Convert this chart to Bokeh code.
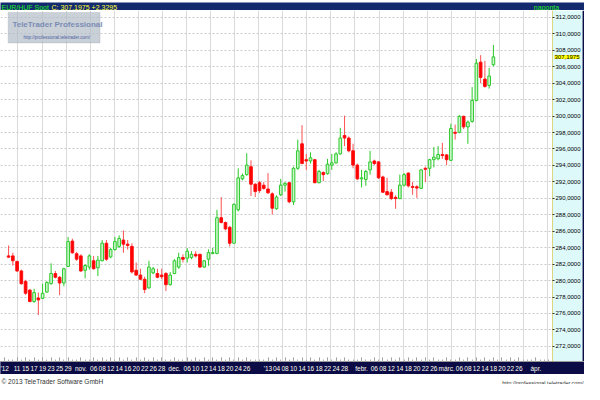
import numpy as np
from bokeh.plotting import figure
from bokeh.layouts import column
from bokeh.models import ColumnDataSource, Range1d, FixedTicker, Label, BoxAnnotation
from bokeh.core.properties import value
from bokeh.embed import file_html
from bokeh.resources import INLINE

# ---------------- data ----------------
start_date = "2012-10-09"
opens = [283.0, 283.0, 282.33, 281.17, 279.9, 278.85, 277.45, 277.88, 277.84, 278.6,
         279.62, 280.86, 280.4, 279.7, 281.72, 284.8, 283.27, 283.0, 281.25, 281.64,
         282.41, 281.56, 282.41, 284.54, 282.88, 283.77, 284.16, 284.93, 284.43, 284.16,
         281.25, 280.67, 280.16, 279.12, 280.94, 280.86, 280.67, 280.86, 279.5, 280.86,
         281.64, 282.8, 282.72, 282.8, 283.19, 283.19, 281.64, 282.6, 283.3, 283.3,
         287.64, 287.06, 286.48, 284.54, 288.6, 292.37, 292.88, 293.85, 291.72, 291.9,
         291.6, 291.13, 290.55, 288.73, 290.43, 291.6, 291.9, 289.58, 293.65, 296.63,
         294.7, 294.54, 294.7, 291.9, 293.15, 292.99, 294.04, 294.31, 295.4, 297.64,
         297.33, 295.78, 294.04, 292.37, 292.3, 293.46, 294.54, 294.43, 292.6, 290.82,
         290.74, 290.12, 289.97, 291.6, 293.07, 291.44, 291.4, 291.21, 293.65, 293.65,
         294.7, 294.81, 295.32, 295.28, 294.62, 298.03, 298.03, 299.97, 298.69, 299.35,
         301.91, 306.56, 304.5, 303.73, 306.25]
highs = [284.27, 283.38, 282.4, 281.33, 280.1, 278.93, 279.0, 278.54, 279.6, 279.9,
         282.1, 281.17, 280.55, 281.56, 285.3, 285.1, 283.5, 283.19, 282.0, 283.19,
         283.0, 283.0, 284.93, 284.93, 283.96, 285.3, 285.5, 286.1, 284.93, 284.54,
         282.2, 281.44, 280.47, 282.4, 281.64, 281.44, 281.44, 281.05, 281.05, 282.6,
         283.38, 283.19, 283.96, 283.57, 283.57, 283.27, 282.49, 283.8, 283.96, 288.6,
         290.16, 287.18, 286.67, 289.39, 293.65, 293.0, 295.47, 294.62, 291.83, 292.1,
         291.98, 293.07, 290.74, 290.36, 292.37, 291.98, 291.98, 293.85, 297.14, 298.9,
         295.4, 295.6, 294.8, 293.46, 293.26, 294.8, 295.4, 295.6, 298.57, 300.05,
         297.53, 296.64, 294.23, 293.46, 293.46, 295.78, 294.7, 294.54, 292.76, 292.49,
         291.13, 290.36, 292.88, 293.07, 293.15, 291.98, 291.6, 293.53, 293.85, 294.8,
         296.25, 296.36, 296.75, 295.4, 299.08, 298.96, 300.12, 300.05, 299.46, 303.53,
         306.95, 307.41, 306.72, 305.86, 308.65]
lows = [282.8, 281.83, 281.05, 279.5, 278.27, 277.37, 277.3, 275.8, 277.76, 278.54,
        279.5, 280.28, 278.23, 279.3, 281.64, 283.27, 282.4, 281.05, 280.28, 281.33,
        281.33, 280.55, 282.33, 282.41, 282.72, 283.65, 283.96, 283.38, 283.77, 280.86,
        280.55, 280.1, 278.46, 279.0, 280.78, 280.28, 280.16, 278.73, 279.39, 280.78,
        281.44, 282.2, 282.2, 282.6, 282.8, 281.56, 281.56, 281.8, 283.19, 283.19,
        286.95, 286.1, 284.15, 284.47, 288.42, 292.2, 292.76, 290.28, 290.16, 290.67,
        291.05, 290.55, 288.03, 288.62, 290.28, 290.82, 289.39, 289.2, 293.46, 294.15,
        293.46, 294.23, 291.83, 291.83, 292.1, 292.88, 293.46, 294.23, 295.32, 296.36,
        295.59, 293.65, 292.22, 291.33, 291.52, 292.88, 294.04, 292.37, 290.67, 290.36,
        289.78, 288.73, 289.9, 291.44, 291.33, 290.43, 290.05, 291.13, 291.98, 292.68,
        293.77, 294.62, 294.81, 294.04, 294.54, 297.14, 297.91, 298.42, 296.63, 299.19,
        301.79, 304.0, 303.46, 303.34, 306.05]
closes = [282.85, 282.41, 281.17, 279.62, 278.46, 277.45, 278.54, 277.65, 278.46, 279.78,
          280.86, 280.4, 279.7, 281.44, 284.74, 283.38, 282.6, 281.17, 281.83, 283.0,
          281.44, 282.49, 284.55, 282.6, 283.77, 284.74, 285.12, 284.43, 284.27, 281.05,
          280.67, 280.16, 278.92, 281.64, 281.44, 280.4, 280.47, 279.5, 280.67, 282.41,
          282.8, 282.6, 283.57, 283.19, 283.0, 281.64, 282.41, 283.4, 283.4, 287.64,
          287.06, 286.28, 284.54, 289.27, 292.49, 292.76, 294.04, 291.72, 290.82, 290.94,
          291.21, 290.67, 288.8, 290.16, 291.6, 291.83, 289.58, 293.65, 295.78, 294.23,
          294.54, 294.93, 291.9, 293.26, 292.88, 294.15, 294.31, 295.4, 297.33, 297.33,
          295.78, 294.04, 292.37, 292.49, 293.26, 294.43, 294.23, 292.49, 290.74, 290.43,
          289.97, 289.97, 291.6, 292.88, 291.52, 291.33, 291.25, 293.46, 293.53, 294.7,
          295.01, 295.32, 295.2, 294.7, 298.49, 297.91, 299.97, 298.69, 299.27, 301.91,
          306.44, 304.7, 303.61, 304.87, 307.1975]

tick_dates = ["2012-10-08", "2012-10-11", "2012-10-15", "2012-10-17", "2012-10-19",
              "2012-10-23", "2012-10-25", "2012-10-29", "2012-11-01", "2012-11-06",
              "2012-11-08", "2012-11-12", "2012-11-14", "2012-11-16", "2012-11-20",
              "2012-11-22", "2012-11-26", "2012-11-28", "2012-12-03", "2012-12-06",
              "2012-12-10", "2012-12-12", "2012-12-14", "2012-12-18", "2012-12-20",
              "2012-12-24", "2012-12-26", "2013-01-02", "2013-01-04", "2013-01-08",
              "2013-01-10", "2013-01-14", "2013-01-16", "2013-01-18", "2013-01-22",
              "2013-01-24", "2013-01-28", "2013-02-01", "2013-02-06", "2013-02-08",
              "2013-02-12", "2013-02-14", "2013-02-18", "2013-02-20", "2013-02-22",
              "2013-02-26", "2013-03-01", "2013-03-06", "2013-03-08", "2013-03-12",
              "2013-03-14", "2013-03-18", "2013-03-20", "2013-03-22", "2013-03-26",
              "2013-04-01"]
tick_labels = ["'12", "11", "15", "17", "19", "23", "25", "29", "nov.", "06",
               "08", "12", "14", "16", "20", "22", "26", "28", "dec.", "06",
               "10", "12", "14", "18", "20", "24", "26", "'13", "04", "08",
               "10", "14", "16", "18", "22", "24", "28", "febr.", "06", "08",
               "12", "14", "18", "20", "22", "26", "márc.", "06", "08", "12",
               "14", "18", "20", "22", "26", "ápr."]
price_ticks = list(range(272, 313, 2))
last_price = 307.1975
header_name = "EUR/HUF Spot"
header_quote = "C: 307,1975 +2,3295"
header_period = "naponta"

# ---------------- layout constants ----------------
W, H_TOP, H_MAIN, H_FOOT = 584, 10, 364, 10
FONT = value("Liberation Sans")
NAVY = "#0b0b45"
TOPNAVY = "#142a6e"
CYAN = "#ddf9fa"

o = np.array(opens); h = np.array(highs); l = np.array(lows); c = np.array(closes)
idx = np.arange(len(o))
up = c >= o
dn = ~up
tick_pos = [int(np.busday_count(start_date, d)) for d in tick_dates]
day_pos = list(range(-1, 128))

# ---------------- header ----------------
top = figure(width=W, height=H_TOP, x_range=Range1d(0, W), y_range=Range1d(0, H_TOP),
             output_backend="svg", toolbar_location=None,
             x_axis_location=None, y_axis_location=None, min_border=0)
top.background_fill_color = TOPNAVY
top.border_fill_color = TOPNAVY
top.outline_line_color = None
top.grid.visible = False
top.text(x=[1], y=[5], text=[header_name], text_color="#22ee22", text_font=FONT,
         text_font_size="7px", text_baseline="middle")
top.text(x=[51], y=[5], text=[header_quote], text_color="#ffff33", text_font=FONT,
         text_font_size="7px", text_baseline="middle")
top.text(x=[546], y=[5], text=[header_period], text_color="#22ee22", text_font=FONT,
         text_font_size="7px", text_baseline="middle", text_align="center")

# ---------------- main chart ----------------
x_lo, x_axis_at, x_hi = -1.9, 127.9, 135.42
y_lo, y_hi = 270.16, 312.84
p = figure(width=W, height=H_MAIN, x_range=Range1d(x_lo, x_hi), y_range=Range1d(y_lo, y_hi),
           output_backend="svg", toolbar_location=None, y_axis_location="right",
           min_border=0)
p.background_fill_color = "white"
p.border_fill_color = NAVY
p.outline_line_color = None

# right-hand price panel (inside the frame, behind the axis)
p.add_layout(BoxAnnotation(left=x_axis_at, fill_color=CYAN, fill_alpha=1.0,
                           line_color=None, level="underlay"))
p.add_layout(BoxAnnotation(left=x_hi - 0.45, fill_color=NAVY, fill_alpha=1.0,
                           line_color=None, level="underlay"))

# axes
p.yaxis.fixed_location = x_axis_at
p.yaxis.ticker = FixedTicker(ticks=price_ticks)
p.yaxis.major_label_overrides = {t: f"{t},0000" for t in price_ticks}
p.yaxis.major_label_text_font = "Liberation Sans"
p.yaxis.major_label_text_font_size = "6px"
p.yaxis.major_label_text_color = "black"
p.yaxis.major_tick_out = 2
p.yaxis.major_tick_in = 0
p.yaxis.minor_tick_line_color = None
p.yaxis.major_tick_line_color = "#333333"
p.yaxis.major_label_standoff = 1
p.yaxis.axis_line_color = "#c8b000"
p.yaxis.axis_line_dash = "1 1"

p.xaxis.ticker = FixedTicker(ticks=tick_pos, minor_ticks=day_pos)
p.xaxis.major_label_overrides = {t: s for t, s in zip(tick_pos, tick_labels)}
p.xaxis.major_label_text_font = "Liberation Sans"
p.xaxis.major_label_text_font_size = "6.5px"
p.xaxis.major_label_text_color = "#fffff0"
p.xaxis.major_tick_out = 0
p.xaxis.major_tick_in = 4
p.xaxis.major_tick_line_color = "#9a9a9a"
p.xaxis.minor_tick_out = 0
p.xaxis.minor_tick_in = 2
p.xaxis.minor_tick_line_color = "#b0b0b0"
p.xaxis.axis_line_color = "#9a9a9a"
p.xaxis.major_label_standoff = 3
p.xaxis.background_fill_color = NAVY

# grid
p.ygrid.ticker = FixedTicker(ticks=price_ticks)
p.ygrid.grid_line_color = "#c9c9c9"
p.ygrid.grid_line_dash = "2 2"
p.xgrid.ticker = FixedTicker(ticks=list(np.arange(2.2, 127.0, 5.66)))
p.xgrid.grid_line_color = "#dadada"
p.xgrid.grid_line_dash = "solid"

# watermark
p.add_layout(BoxAnnotation(left=-0.1, right=21.5, bottom=308.9, top=312.6,
                           fill_color="#b4bcc8", fill_alpha=0.7,
                           line_color="#9aa2b0", line_width=1))
p.add_layout(Label(x=0.9, y=311.1, text="TeleTrader Professional", text_font="Liberation Sans",
                   text_font_size="8px", text_font_style="bold", text_color="#7a8cb4",
                   text_baseline="middle"))
p.add_layout(Label(x=3.5, y=309.6, text="http://professional.teletrader.com/",
                   text_font="Liberation Sans", text_font_size="4.5px", text_color="#4c5fa0",
                   text_baseline="middle"))

# candles
src_up = ColumnDataSource(dict(x=idx[up], o=o[up], h=h[up], l=l[up], c=c[up]))
src_dn = ColumnDataSource(dict(x=idx[dn], o=o[dn], h=h[dn], l=l[dn], c=c[dn]))
p.segment(x0="x", y0="h", x1="x", y1="l", source=src_up, line_color="#2bc92b", line_width=1)
p.segment(x0="x", y0="h", x1="x", y1="l", source=src_dn, line_color="#ff5050", line_width=1)
p.vbar(x="x", width=0.62, top="c", bottom="o", source=src_up,
       fill_color="#cdf6cd", line_color="#2bc92b", line_width=1)
p.vbar(x="x", width=0.62, top="o", bottom="c", source=src_dn,
       fill_color="#ff0000", line_color="#ff1010", line_width=1)

# last price marker on the axis
p.add_layout(Label(x=x_axis_at, y=last_price, text="307,1975", x_offset=2,
                   text_font="Liberation Sans", text_font_size="6px",
                   text_color="black", text_baseline="middle",
                   background_fill_color="#ffff00"))

# ---------------- footer ----------------
foot = figure(width=W, height=H_FOOT, x_range=Range1d(0, W), y_range=Range1d(0, H_FOOT),
              output_backend="svg", toolbar_location=None,
              x_axis_location=None, y_axis_location=None, min_border=0)
foot.background_fill_color = "white"
foot.border_fill_color = "white"
foot.outline_line_color = None
foot.grid.visible = False
foot.text(x=[1], y=[5], text=["© 2013 TeleTrader Software GmbH"], text_color="#333333",
          text_font=FONT, text_font_size="6.5px", text_baseline="middle")
foot.text(x=[583], y=[4], text=["http://professional.teletrader.com/"], text_color="#333333",
          text_font=FONT, text_font_size="5.5px", text_baseline="middle", text_align="right")

layout = column(top, p, foot, spacing=0)
open("out.html", "w").write(file_html(layout, INLINE))
